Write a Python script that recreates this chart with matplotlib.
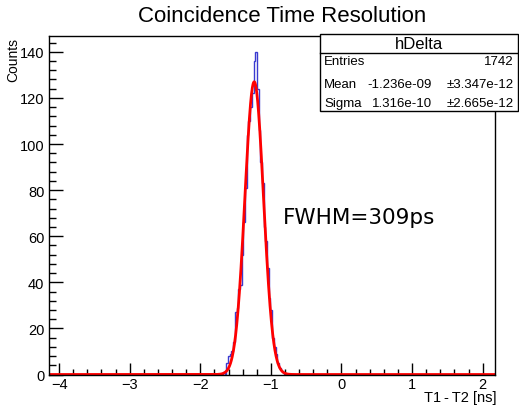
import numpy as np
import matplotlib.pyplot as plt
from matplotlib.patches import Rectangle
from matplotlib.ticker import MultipleLocator

plt.rcParams['font.family'] = ['Liberation Sans', 'DejaVu Sans']

# histogram: 0.024 ns bins, peak region starting at -1.75 ns (rest empty)
bin_width = 0.024
x_lo, x_hi = -4.15, 2.186
peak_start = -1.75
peak_counts = [0, 0, 0, 1, 0, 5, 8, 9, 10, 14,
               27, 29, 37, 39, 52, 66, 81, 104, 110, 116,
               122, 136, 140, 124, 106, 92, 83, 64, 58, 46,
               33, 28, 16, 12, 9, 5, 3, 2, 1, 0]

# gaussian fit results (ns)
fit_const = 127.0
fit_mean = -1.236
fit_sigma = 0.1316

stats_rows = [("Entries", "", "1742"),
              ("Mean", "-1.236e-09", "\u00b13.347e-12"),
              ("Sigma", "1.316e-10", "\u00b12.665e-12")]

W, H = 519, 406
fig = plt.figure(figsize=(W / 100, H / 100), dpi=100)
ax = fig.add_axes([48.5 / W, 1 - 375.5 / H, (495 - 48.5) / W, (375.5 - 36.7) / H])

# build full bin edges / counts
n_bins = int(round((x_hi - x_lo) / bin_width))
edges = x_lo + bin_width * np.arange(n_bins + 1)
counts = np.zeros(n_bins)
i0 = int(round((peak_start - x_lo) / bin_width))
counts[i0:i0 + len(peak_counts)] = peak_counts

ax.stairs(counts, edges, color='#3a3ad0', lw=1.0, baseline=None)

xf = np.linspace(x_lo, x_hi, 2000)
yf = fit_const * np.exp(-0.5 * ((xf - fit_mean) / fit_sigma) ** 2)
ax.plot(xf, yf, color='#ff0000', lw=2.0)

ax.set_xlim(x_lo, 2.175)
ax.set_ylim(0, 147)
ax.xaxis.set_major_locator(MultipleLocator(1))
ax.xaxis.set_minor_locator(MultipleLocator(0.2))
ax.yaxis.set_major_locator(MultipleLocator(20))
ax.yaxis.set_minor_locator(MultipleLocator(4))
ax.tick_params(which='both', direction='in', top=False, right=False, labelsize=10.5, width=1)
ax.tick_params(axis='y', which='major', length=10, pad=3)
ax.tick_params(axis='y', which='minor', length=5)
ax.tick_params(axis='x', which='major', length=9, pad=2)
ax.tick_params(axis='x', which='minor', length=4.5)
for s in ax.spines.values():
    s.set_linewidth(1.0)

fig.text(282 / W, 1 - 16 / H, "Coincidence Time Resolution", ha='center', va='center', fontsize=16)
fig.text(13 / W, 1 - 38 / H, "Counts", rotation=90, ha='center', va='top', fontsize=10)
fig.text(496 / W, 1 - 398 / H, "T1\u2009-\u2009T2 [ns]", ha='right', va='center', fontsize=10.5)
ax.text(283 / W, 1 - 218 / H, "FWHM=309ps", transform=fig.transFigure, ha='left', va='center',
        fontsize=15.5, family='DejaVu Sans')

# stats box
bx0, bx1, by0, by1 = 320, 518, 35, 112
fig.patches.append(Rectangle((bx0 / W, 1 - by1 / H), (bx1 - bx0) / W, (by1 - by0) / H,
                             transform=fig.transFigure, facecolor='white', edgecolor='black', lw=1.0))
fig.lines.append(plt.Line2D([bx0 / W, bx1 / W], [1 - 54 / H, 1 - 54 / H],
                            transform=fig.transFigure, color='black', lw=1.0))
fig.text((bx0 + bx1) / 2 / W, 1 - 44.5 / H, "hDelta", ha='center', va='center', fontsize=12)
row_y = [62, 85, 104]
for (lab, v1, v2), yy in zip(stats_rows, row_y):
    fig.text(324 / W, 1 - yy / H, lab, ha='left', va='center', fontsize=9.5)
    if v1:
        fig.text(432 / W, 1 - yy / H, v1, ha='right', va='center', fontsize=9.5)
    fig.text(514 / W, 1 - yy / H, v2, ha='right', va='center', fontsize=9.5)

fig.savefig('out.png', dpi=100)
